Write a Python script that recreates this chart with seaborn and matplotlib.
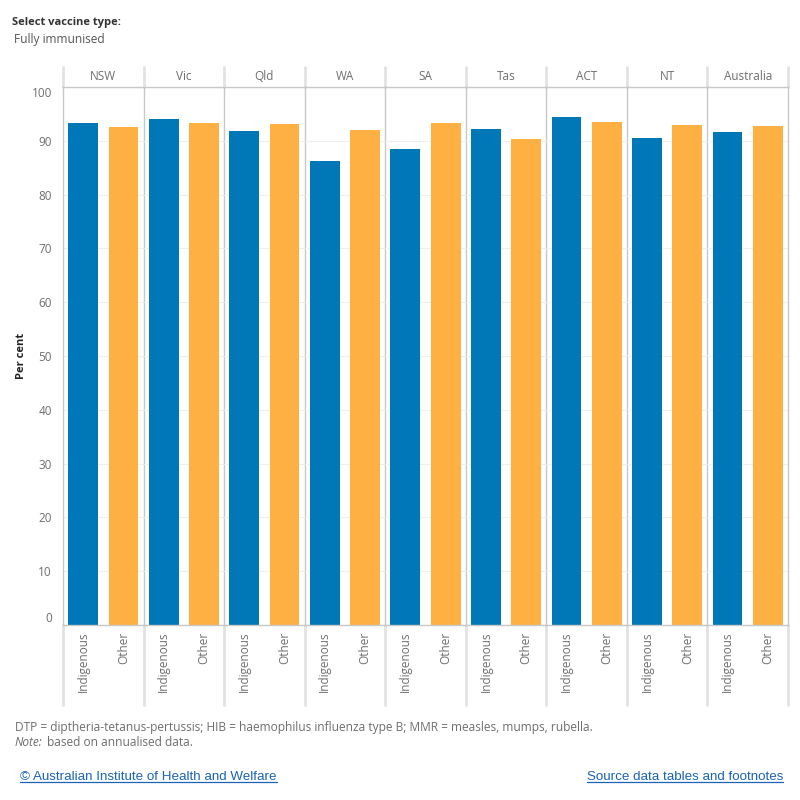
import numpy as np
import pandas as pd
import seaborn as sns
import matplotlib.pyplot as plt
from matplotlib.lines import Line2D

# values (per cent fully immunised)
states = ['NSW', 'Vic', 'Qld', 'WA', 'SA', 'Tas', 'ACT', 'NT', 'Australia']
groups = ['Indigenous', 'Other']
indigenous = [93.3, 94.0, 91.8, 86.2, 88.5, 92.2, 94.4, 90.5, 91.6]
other = [92.5, 93.3, 93.1, 92.0, 93.3, 90.3, 93.5, 92.9, 92.7]
yticks = list(range(0, 101, 10))

blue = '#0078b8'
orange = '#ffb042'
grey_txt = '#6e6e6e'

sns.set_style('white')
plt.rcParams['font.family'] = ['Open Sans', 'DejaVu Sans']

W, H = 800, 800
fig, axes = plt.subplots(1, 9, figsize=(8, 8), dpi=100, sharey=True)
left, right, bottom, top = 63, 788, 625, 87
fig.subplots_adjust(left=left / W, right=right / W, bottom=1 - bottom / H, top=1 - top / H, wspace=0)
ax_h = bottom - top

for i, (ax, st) in enumerate(zip(axes, states)):
    d = pd.DataFrame({'group': groups, 'value': [indigenous[i], other[i]]})
    sns.barplot(data=d, x='group', y='value', hue='group', palette=[blue, orange],
                width=0.74, legend=False, ax=ax, saturation=1, linewidth=0)
    ax.patch.set_facecolor('none')
    ax.set_ylim(0, 100)
    ax.set_xlim(-0.5, 1.5)
    ax.set_yticks(yticks)
    ax.yaxis.grid(True, color='#efefef', lw=0.8)
    ax.set_axisbelow(True)
    ax.set_xlabel('')
    ax.set_ylabel('')
    for s in ['top', 'bottom', 'right', 'left']:
        ax.spines[s].set_color('#c8c8c8')
        ax.spines[s].set_linewidth(1)
        ax.spines[s].set_zorder(5)
    if i > 0:
        ax.spines['left'].set_visible(False)
        ax.tick_params(axis='y', length=0)
    ax.tick_params(axis='x', length=0, pad=5, labelrotation=90, labelcolor=grey_txt, labelsize=8.5)
    # header with state name
    ax.text(0.5, 1 + 10 / ax_h, st, transform=ax.transAxes, ha='center', va='center',
            color=grey_txt, fontsize=8.5)
    # light separators in the header and below the axis
    for xs in ([0, 1] if i == 0 else [1]):
        ax.add_line(Line2D([xs, xs], [1, 1 + 20 / ax_h], transform=ax.transAxes,
                           color='#e2e2e2', lw=2, clip_on=False))
        ax.add_line(Line2D([xs, xs], [0, -80 / ax_h], transform=ax.transAxes,
                           color='#e2e2e2', lw=2, clip_on=False))

ax0 = axes[0]
ax0.tick_params(axis='y', length=3, color='#c8c8c8', labelcolor=grey_txt, labelsize=8.5, pad=5)
for lab in ax0.get_yticklabels():
    if lab.get_text() == '100':
        lab.set_va('top')
    elif lab.get_text() == '0':
        lab.set_va('bottom')
fig.text(22 / W, 1 - 356 / H, 'Per cent', fontsize=8, fontweight='bold', color='#222222',
         rotation=90, ha='center', va='center')

# title block
fig.text(12 / W, 1 - 22 / H, 'Select vaccine type:', fontsize=8, fontweight='bold', color='#333333', va='center')
fig.text(14 / W, 1 - 39 / H, 'Fully immunised', fontsize=8.6, color='#555555', va='center')

# footer
fig.text(15 / W, 1 - 727 / H,
         'DTP = diptheria-tetanus-pertussis; HIB = haemophilus influenza type B; MMR = measles, mumps, rubella.',
         fontsize=8.6, color=grey_txt, va='center')
note = fig.text(15 / W, 1 - 743 / H, 'Note:', fontsize=8.6, color=grey_txt, va='center', style='italic')

link_col = '#1a63b8'
t1 = fig.text(20 / W, 1 - 777 / H, '\u00a9 Australian Institute of Health and Welfare', fontsize=9.65,
              color=link_col, va='center', family=['Liberation Sans', 'DejaVu Sans'])
t2 = fig.text(783 / W, 1 - 777 / H, 'Source data tables and footnotes', fontsize=9.65, ha='right',
              color=link_col, va='center', family=['Liberation Sans', 'DejaVu Sans'])
fig.canvas.draw()
r = fig.canvas.get_renderer()
nb = note.get_window_extent(r)
fig.text((nb.x1 + 4) / W, 1 - 743 / H, 'based on annualised data.', fontsize=8.6, color=grey_txt, va='center')
for t in (t1, t2):
    bb = t.get_window_extent(r).transformed(fig.transFigure.inverted())
    fig.add_artist(Line2D([bb.x0, bb.x1], [bb.y0 + 1 / H, bb.y0 + 1 / H], transform=fig.transFigure,
                          color=link_col, lw=0.9))

fig.savefig('out.png', dpi=100)
